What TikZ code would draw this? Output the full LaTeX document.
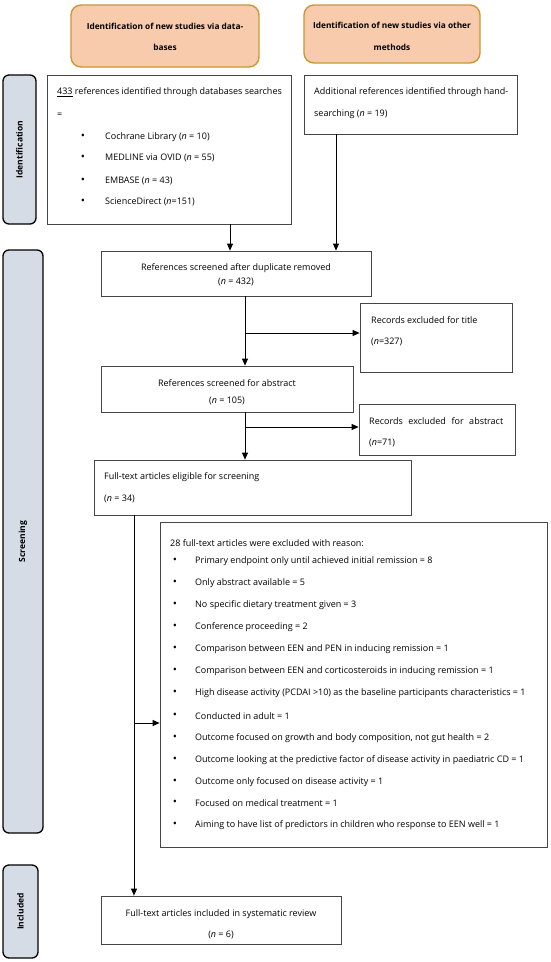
\documentclass[tikz,border=0pt]{standalone}
\usepackage{fontspec}
\setmainfont{Open Sans}
\usetikzlibrary{arrows.meta}
\definecolor{headfill}{RGB}{248,203,173}
\definecolor{headdraw}{RGB}{200,152,55}
\definecolor{sidefill}{RGB}{214,220,229}
\definecolor{boxdraw}{RGB}{70,70,70}
\newcommand{\fsz}{\fontsize{9}{11}\selectfont}
\begin{document}
\begin{tikzpicture}[x=1pt,y=-1pt,
  box/.style={draw=boxdraw, line width=0.8pt, inner sep=0pt},
  head/.style={draw=headdraw, fill=headfill, rounded corners=10pt, line width=1.4pt, inner sep=0pt},
  side/.style={draw=black, fill=sidefill, rounded corners=6pt, line width=1.3pt, inner sep=0pt},
  txt/.style={font=\fsz, inner sep=0pt, anchor=west},
  ctxt/.style={font=\fsz, inner sep=0pt},
  htxt/.style={font=\fontsize{8.3}{10}\selectfont\bfseries, inner sep=0pt},
  stxt/.style={font=\fontsize{8.5}{10}\selectfont\bfseries, inner sep=0pt, rotate=90},
  bul/.style={font=\fontsize{11}{11}\selectfont, inner sep=0pt},
  arr/.style={-{Triangle[length=7pt,width=6pt]}, line width=0.8pt, draw=black}]
\useasboundingbox (0,0) rectangle (550,962);
\fill[white] (0,0) rectangle (550,962);

% header boxes
\node[head, minimum width=188pt, minimum height=62pt] (headL) at (165,36) {};
\node[htxt] (headLa) at (165,26) {Identification of new studies via data-};
\node[htxt] (headLb) at (165,47) {bases};
\node[head, minimum width=176pt, minimum height=58pt] (headR) at (392,34) {};
\node[htxt] (headRa) at (392,25) {Identification of new studies via other};
\node[htxt] (headRb) at (392,47) {methods};

% side labels
\node[side, minimum width=33pt, minimum height=149pt] (sideI) at (19.5,149.5) {};
\node[stxt] (sideIt) at (sideI) {Identification};
\node[side, minimum width=40pt, minimum height=583pt] (sideS) at (23,541.5) {};
\node[stxt] (sideSt) at (sideS) {Screening};
\node[side, minimum width=35pt, minimum height=93pt] (sideN) at (20.5,911.5) {};
\node[stxt] (sideNt) at (sideN) {Included};

% databases box
\node[box, minimum width=244pt, minimum height=149pt] (db) at (169,149.5) {};
\node[txt] (db1) at (57,92) {\underline{433} references identified through databases searches};
\node[txt] (db2) at (57,115) {=};
\node[bul] (dbb1) at (83,137) {•};
\node[txt] (dbt1) at (105,137) {Cochrane Library (\textit{n} = 10)};
\node[bul] (dbb2) at (83,158) {•};
\node[txt] (dbt2) at (105,158) {MEDLINE via OVID (\textit{n} = 55)};
\node[bul] (dbb3) at (83,181) {•};
\node[txt] (dbt3) at (105,181) {EMBASE (\textit{n} = 43)};
\node[bul] (dbb4) at (83,202) {•};
\node[txt] (dbt4) at (105,202) {ScienceDirect (\textit{n}=151)};

% hand-searching box
\node[box, minimum width=213pt, minimum height=59pt] (hand) at (410.5,104.5) {};
\node[txt] (hand1) at (314,92) {Additional references identified through hand-};
\node[txt] (hand2) at (314,114) {searching (\textit{n} = 19)};

% duplicates
\node[box, minimum width=270pt, minimum height=45pt] (dup) at (236,273.5) {};
\node[ctxt] (dup1) at (236,268) {References screened after duplicate removed};
\node[ctxt] (dup2) at (236,282) {(\textit{n} = 432)};

% excluded for title
\node[box, minimum width=152pt, minimum height=69pt] (title) at (436,337.5) {};
\node[txt] (title1) at (371,320) {Records excluded for title};
\node[txt] (title2) at (371,342) {(\textit{n}=327)};

% abstract
\node[box, minimum width=252pt, minimum height=46pt] (abs) at (227,389) {};
\node[ctxt] (abs1) at (227,383) {References screened for abstract};
\node[ctxt] (abs2) at (227,401) {(\textit{n} = 105)};

% excluded for abstract
\node[box, minimum width=156pt, minimum height=51pt] (recab) at (437,429.5) {};
\node[txt] (recab1) at (369,421) {\makebox[134pt][s]{Records excluded for abstract}};
\node[txt] (recab2) at (369,443) {(\textit{n}=71)};

% full text eligible
\node[box, minimum width=317pt, minimum height=55pt] (full) at (252.5,487.5) {};
\node[txt] (full1) at (104,477) {Full-text articles eligible for screening};
\node[txt] (full2) at (104,499) {(\textit{n} = 34)};

% excluded full text
\node[box, minimum width=387pt, minimum height=325pt] (big) at (353.5,684.5) {};
\node[txt] (big0) at (170,543) {28 full-text articles were excluded with reason:};
\foreach \y/\t [count=\i] in {
  561/{Primary endpoint only until achieved initial remission = 8},
  583/{Only abstract available = 5},
  605/{No specific dietary treatment given = 3},
  627/{Conference proceeding = 2},
  649/{Comparison between EEN and PEN in inducing remission = 1},
  671/{Comparison between EEN and corticosteroids in inducing remission = 1},
  693/{High disease activity (PCDAI >10) as the baseline participants characteristics = 1},
  716/{Conducted in adult = 1},
  738/{Outcome focused on growth and body composition, not gut health = 2},
  760/{Outcome looking at the predictive factor of disease activity in paediatric CD = 1},
  782/{Outcome only focused on disease activity = 1},
  803/{Focused on medical treatment = 1},
  825/{Aiming to have list of predictors in children who response to EEN well = 1}}
{
  \node[bul] (bigb\i) at (175,\y) {•};
  \node[txt] (bigt\i) at (195,\y) {\t};
}

% included
\node[box, minimum width=240pt, minimum height=48pt] (incl) at (221,920) {};
\node[ctxt] (incl1) at (221,914) {Full-text articles included in systematic review};
\node[ctxt] (incl2) at (221,935) {(\textit{n} = 6)};

% connector coordinates
\coordinate (xa) at (230,0);
\coordinate (xb) at (336,0);
\coordinate (xc) at (245,0);
\coordinate (xd) at (134,0);
\coordinate (ya) at (0,333);
\coordinate (yb) at (0,427);
\coordinate (yc) at (0,723);

\draw[arr] (db.south -| xa) -- (dup.north -| xa);
\draw[arr] (hand.south -| xb) -- (dup.north -| xb);
\draw[arr] (dup.south -| xc) -- (abs.north -| xc);
\draw[arr] (xc |- ya) -- (title.west |- ya);
\draw[arr] (abs.south -| xc) -- (full.north -| xc);
\draw[arr] (xc |- yb) -- (recab.west |- yb);
\draw[arr] (full.south -| xd) -- (incl.north -| xd);
\draw[arr] (xd |- yc) -- (big.west |- yc);
\end{tikzpicture}
\end{document}
